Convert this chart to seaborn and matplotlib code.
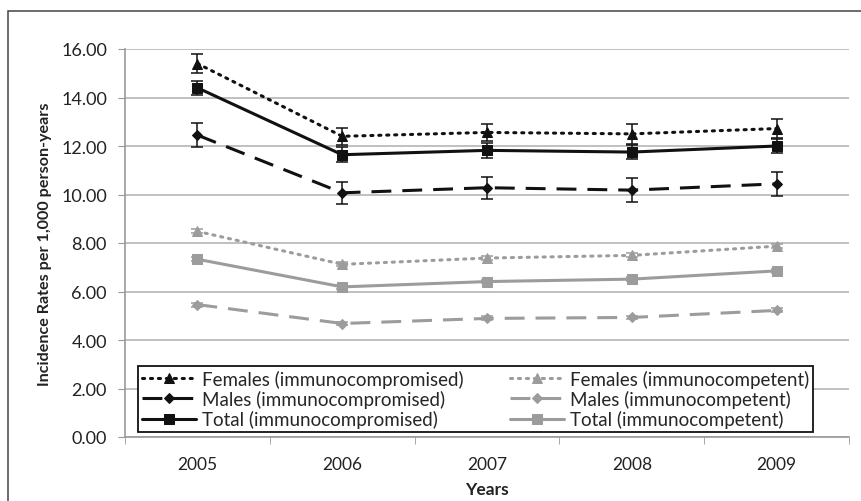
import seaborn as sns
import matplotlib.pyplot as plt
import pandas as pd
from matplotlib.patches import Rectangle

years = [2005, 2006, 2007, 2008, 2009]

# immunocompromised
females_ic = [15.40, 12.40, 12.56, 12.50, 12.72]
females_ic_err = [0.40, 0.35, 0.35, 0.40, 0.40]
males_ic = [12.45, 10.07, 10.28, 10.18, 10.44]
males_ic_err = [0.50, 0.45, 0.45, 0.48, 0.50]
total_ic = [14.40, 11.64, 11.82, 11.75, 12.00]
total_ic_err = [0.30, 0.30, 0.30, 0.30, 0.30]

# immunocompetent
females_co = [8.48, 7.12, 7.38, 7.49, 7.87]
males_co = [5.46, 4.68, 4.89, 4.93, 5.22]
total_co = [7.33, 6.19, 6.41, 6.51, 6.85]
small_err = [0.08, 0.08, 0.08, 0.08, 0.08]

labels = ['Females (immunocompromised)', 'Males (immunocompromised)', 'Total (immunocompromised)',
          'Females (immunocompetent)', 'Males (immunocompetent)', 'Total (immunocompetent)']
values = [females_ic, males_ic, total_ic, females_co, males_co, total_co]
errors = [females_ic_err, males_ic_err, total_ic_err, small_err, small_err, small_err]

BLACK = '#111111'
GREY = '#9c9c9c'
colors = [BLACK, BLACK, BLACK, GREY, GREY, GREY]
markers = ['^', 'D', 's', '^', 'D', 's']
msizes = [7.5, 5.5, 7, 6.5, 5, 6.5]
dashes = [(0.7, 1.9), (6.5, 3.6), '', (0.7, 1.9), (6.5, 3.6), '']


def main():
    sns.set_style('white')
    plt.rcParams['font.family'] = ['Lato', 'DejaVu Sans']
    fig = plt.figure(figsize=(8.61, 5.02), dpi=100)
    ax = fig.add_axes([125 / 861, 64 / 502, 724 / 861, 388 / 502])

    for lab, vals, err, c, m, ms, d in zip(labels, values, errors, colors, markers, msizes, dashes):
        df = pd.DataFrame({'Years': years, 'Rate': vals})
        sns.lineplot(data=df, x='Years', y='Rate', ax=ax, color=c, marker=m, markersize=ms,
                     markeredgecolor=c, linewidth=2.2, label=lab, dashes=False)
        line = ax.get_lines()[-1]
        if d == '':
            line.set_linestyle('-')
        else:
            line.set_dashes(d)
            line.set_dash_capstyle('round' if d[0] < 1 else 'butt')
        ax.errorbar(years, vals, yerr=err, fmt='none', ecolor=c, elinewidth=1.1,
                    capsize=4, capthick=1.1)

    ax.set_xlim(2004.5, 2009.5)
    ax.set_ylim(0, 16)
    ax.set_yticks([0, 2, 4, 6, 8, 10, 12, 14, 16])
    ax.set_yticklabels([f'{v:.2f}' for v in range(0, 17, 2)])
    ax.set_xticks(years)
    ax.set_xticks([2004.5, 2005.5, 2006.5, 2007.5, 2008.5, 2009.5], minor=True)
    ax.tick_params(axis='x', which='major', length=0, pad=14, labelsize=12.5, labelcolor='#222222')
    ax.tick_params(axis='x', which='minor', length=5, direction='out', color='#999999', bottom=True)
    ax.tick_params(axis='y', length=5, direction='out', color='#999999', left=True, labelsize=13,
                   labelcolor='#222222', pad=8)
    ax.grid(axis='y', color='#b5b5b5', linewidth=1.2)
    ax.set_axisbelow(True)
    for s in ['top', 'right']:
        ax.spines[s].set_visible(False)
    for s in ['left', 'bottom']:
        ax.spines[s].set_color('#999999')
        ax.spines[s].set_linewidth(1.2)

    ax.set_xlabel('Years', fontsize=12.5, fontweight='bold', color='#222222')
    ax.set_ylabel('Incidence Rates per 1,000 person-years', fontsize=11.6, fontweight='bold',
                  color='#222222')
    ax.xaxis.set_label_coords(0.5, (438 - 482) / 388)
    ax.yaxis.set_label_coords((52 - 125) / 724, 0.5)

    leg = ax.legend(loc='lower left', bbox_to_anchor=(13 / 724, 5 / 388, 675 / 724, 0.1),
                    mode='expand', ncol=2, fontsize=13.5,
                    frameon=True, fancybox=False, edgecolor='#111111', framealpha=1,
                    handlelength=2.9, handletextpad=0.3, columnspacing=1.3,
                    labelspacing=0.12, borderpad=0.2, borderaxespad=0)
    leg.get_frame().set_linewidth(1.3)

    fig.patches.append(Rectangle((8 / 861, -0.1), 1.2, 1 - 12 / 502 + 0.1, transform=fig.transFigure,
                                 fill=False, edgecolor='#444444', linewidth=1.1))

    plt.savefig('out.png', dpi=100)


if __name__ == "__main__":
    main()
